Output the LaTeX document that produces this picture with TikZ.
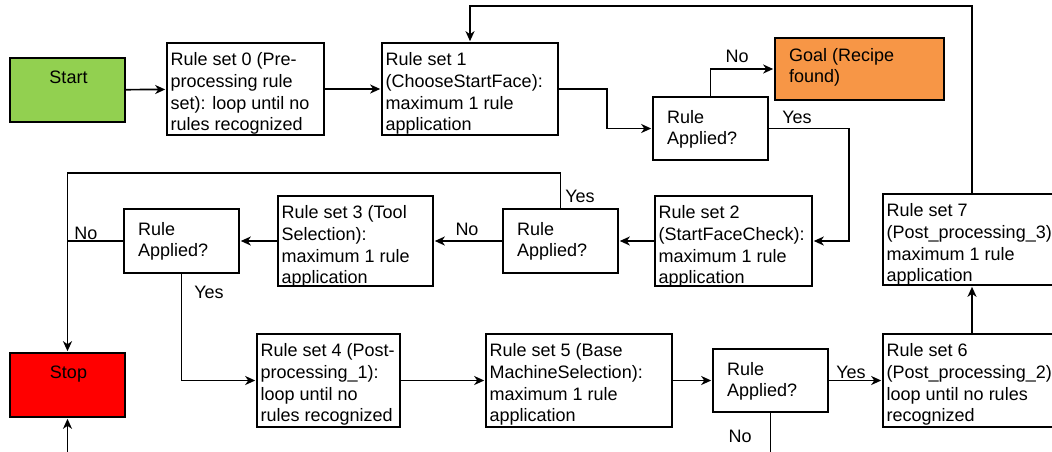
\documentclass[tikz,border=0pt]{standalone}
\usepackage{fontspec}
\setmainfont{Liberation Sans}
\usetikzlibrary{arrows.meta,fit}

\newcommand\flowtext{\fontsize{18}{21.7}\selectfont}
\definecolor{startgreen}{HTML}{92D050}
\definecolor{goalorange}{HTML}{F79646}
\definecolor{stopred}{HTML}{FF0000}

\tikzset{
  box/.style={draw, line width=2pt, inner sep=0pt, fill=white},
  txt/.style={inner sep=0pt, align=left, font=\flowtext, anchor=north west},
  lbl/.style={inner sep=0pt, font=\flowtext},
  ln/.style={line width=1.7pt},
  arr/.style={ln, -{Stealth[length=10pt,width=9pt,inset=3pt]}, shorten >=0.8pt},
}

\begin{document}
\begin{tikzpicture}[x=1pt, y=-1pt]
\useasboundingbox (0,0) rectangle (1052,451);
\clip (0,0) rectangle (1052,451);

% terminal boxes
\node[box, fill=startgreen, fit={(10,58) (125,122)}] (start) {};
\node[txt, anchor=north] (start-t) at ([xshift=1pt,yshift=-13.5pt]start.north) {Start};
\node[box, fill=stopred, fit={(10,353) (125,417)}] (stop) {};
\node[txt, anchor=north] (stop-t) at ([xshift=1pt,yshift=-13.5pt]stop.north) {Stop};
\node[box, fill=goalorange, fit={(775,38) (944,100)}] (goal) {};
\node[txt] (goal-t) at ([xshift=15pt,yshift=-11pt]goal.north west) {Goal (Recipe\\found)};

% rule set boxes
\node[box, fit={(167,43) (324,135)}] (rs0) {};
\node[txt] (rs0-t) at ([xshift=4.5pt,yshift=-10.5pt]rs0.north west)
  {Rule set 0 (Pre-\\processing rule\\set): loop until no\\rules recognized};
\node[box, fit={(382,43) (558,135)}] (rs1) {};
\node[txt] (rs1-t) at ([xshift=4.5pt,yshift=-10.5pt]rs1.north west)
  {Rule set 1\\(ChooseStartFace):\\maximum 1 rule\\application};
\node[box, fit={(655,196) (812,286)}] (rs2) {};
\node[txt] (rs2-t) at ([xshift=4.5pt,yshift=-10.5pt]rs2.north west)
  {Rule set 2\\(StartFaceCheck):\\maximum 1 rule\\application};
\node[box, fit={(278,196) (433,286)}] (rs3) {};
\node[txt] (rs3-t) at ([xshift=4.5pt,yshift=-10.5pt]rs3.north west)
  {Rule set 3 (Tool\\Selection):\\maximum 1 rule\\application};
\node[box, fit={(257,334) (400,427)}] (rs4) {};
\node[txt] (rs4-t) at ([xshift=4.5pt,yshift=-10.5pt]rs4.north west)
  {Rule set 4 (Post-\\processing\_1):\\loop until no\\rules recognized};
\node[box, fit={(486,334) (672,427)}] (rs5) {};
\node[txt] (rs5-t) at ([xshift=4.5pt,yshift=-10.5pt]rs5.north west)
  {Rule set 5 (Base\\MachineSelection):\\maximum 1 rule\\application};
\node[box, fit={(883,334) (1075,427)}] (rs6) {};
\node[txt] (rs6-t) at ([xshift=4.5pt,yshift=-10.5pt]rs6.north west)
  {Rule set 6\\(Post\_processing\_2):\\loop until no rules\\recognized};
\node[box, fit={(883,194) (1075,285)}] (rs7) {};
\node[txt] (rs7-t) at ([xshift=4.5pt,yshift=-10.5pt]rs7.north west)
  {Rule set 7\\(Post\_processing\_3):\\maximum 1 rule\\application};

% decision boxes
\node[box, fit={(653,97) (768,160)}] (d1) {};
\node[txt] (d1-t) at ([xshift=15pt,yshift=-14pt]d1.north west) {Rule\\Applied?};
\node[box, fit={(503,209) (618,273)}] (d2) {};
\node[txt] (d2-t) at ([xshift=15pt,yshift=-14pt]d2.north west) {Rule\\Applied?};
\node[box, fit={(124,209) (239,273)}] (d3) {};
\node[txt] (d3-t) at ([xshift=15pt,yshift=-14pt]d3.north west) {Rule\\Applied?};
\node[box, fit={(713,349) (828,412)}] (d4) {};
\node[txt] (d4-t) at ([xshift=15pt,yshift=-14pt]d4.north west) {Rule\\Applied?};

% loose ends running off the bottom edge
\coordinate (stopin) at (67.5,452);
\coordinate (d4out) at (770.5,452);

% connectors
\draw[arr] (start) -- (rs0);
\draw[arr] (rs0) -- (rs1);
\draw[arr] (rs1.east) -- ++(48,0) |- (d1.west);
\draw[arr] (d1.north) |- (goal.west);
\draw[arr] (d1.east) -- ++(80,0) |- (rs2.east);
\draw[arr] (rs2) -- (d2);
\draw[arr] (d2) -- (rs3);
\draw[arr] (rs3) -- (d3);
\draw[arr] (d2.north) -- ++(0,-35) -| (stop.north);
\draw[ln] (d3.west) -- (d3.west -| stop.north);
\draw[arr] (d3.south) |- (rs4.west);
\draw[arr] (rs4) -- (rs5);
\draw[arr] (rs5) -- (d4);
\draw[arr] (d4) -- (rs6);
\draw[ln] (d4.south) -- (d4out);
\draw[arr] (stopin) -- (stop.south);
\draw[arr] ([xshift=90pt]rs6.north west) -- ([xshift=90pt]rs7.south west);
\draw[arr] ([xshift=90pt]rs7.north west) -- ++(0,-187) -| (rs1.north);

% branch labels
\node[lbl] (l1no) at (737,56) {No};
\node[lbl] (l1yes) at (797,117) {Yes};
\node[lbl] (l2yes) at (580,196.5) {Yes};
\node[lbl] (l2no) at (467,229) {No};
\node[lbl] (l3no) at (86,233) {No};
\node[lbl] (l3yes) at (209,292) {Yes};
\node[lbl] (l4yes) at (851,372) {Yes};
\node[lbl] (l4no) at (740,436) {No};
\end{tikzpicture}
\end{document}
